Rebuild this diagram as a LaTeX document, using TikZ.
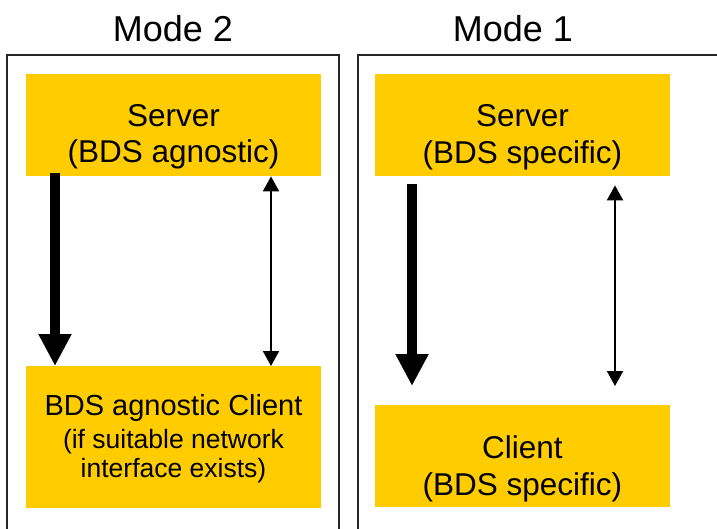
\documentclass[tikz,border=0pt]{standalone}
\usepackage{fontspec}
\setmainfont{Liberation Sans}
\usetikzlibrary{arrows.meta,calc}
\definecolor{boxyellow}{RGB}{255,204,0}
\begin{document}
\begin{tikzpicture}[x=1pt,y=-1pt,
  frame/.style={draw=black!85,line width=1.5pt},
  ybox/.style={fill=boxyellow,draw=none,inner sep=0pt,anchor=north west},
  big/.style={font=\fontsize{36}{40}\selectfont,anchor=base,inner sep=0pt},
  main/.style={font=\fontsize{31.5}{36}\selectfont,anchor=base,inner sep=0pt},
  mid/.style={font=\fontsize{29}{33}\selectfont,anchor=base,inner sep=0pt},
  small/.style={font=\fontsize{26.5}{30}\selectfont,anchor=base,inner sep=0pt},
  thick arrow/.style={line width=10.5pt,-{Triangle[width=31pt,length=32pt]}},
  thin arrow/.style={line width=2pt,{Triangle[width=16pt,length=15pt]}-{Triangle[width=16pt,length=15pt]}}]
\useasboundingbox (0,0) rectangle (717,529);
\clip (0,0) rectangle (717,529);
% frames
\draw[frame] (7,560) -- (7,55) -- (339,55) -- (339,560);
\draw[frame] (358,560) -- (358,55) -- (740,55);
% titles
\node[big] (m2) at (173,41.5) {Mode 2};
\node[big] (m1) at (513,41.5) {Mode 1};
% Mode 2 boxes
\node[ybox,minimum width=295pt,minimum height=102pt] (s2) at (26,74) {};
\node[main] (s2a) at (173.5,127) {Server};
\node[main] (s2b) at (173.5,163) {(BDS agnostic)};
\node[ybox,minimum width=295pt,minimum height=142pt] (c2) at (26,366) {};
\node[mid] (c2a) at (173.5,415.7) {BDS agnostic Client};
\node[small] (c2b) at (173.5,448) {(if suitable network};
\node[small] (c2c) at (173.5,477) {interface exists)};
% Mode 1 boxes
\node[ybox,minimum width=295pt,minimum height=102pt] (s1) at (375,74) {};
\node[main] (s1a) at (522.5,127) {Server};
\node[main] (s1b) at (522.5,164) {(BDS specific)};
\node[ybox,minimum width=295pt,minimum height=102pt] (c1) at (375,405) {};
\node[main] (c1a) at (522.5,458) {Client};
\node[main] (c1b) at (522.5,495) {(BDS specific)};
% arrows Mode 2
\draw[thick arrow,shorten <=-3pt] ($(s2.south west)+(29,0)$) -- ($(c2.north west)+(29,0)$);
\draw[thin arrow] ($(s2.south west)+(245,0)$) -- ($(c2.north west)+(245,0)$);
% arrows Mode 1
\draw[thick arrow,shorten <=8pt,shorten >=19pt] ($(s1.south west)+(37,0)$) -- ($(c1.north west)+(37,0)$);
\draw[thin arrow,shorten <=9pt,shorten >=19pt] ($(s1.south west)+(240,0)$) -- ($(c1.north west)+(240,0)$);
\end{tikzpicture}
\end{document}
